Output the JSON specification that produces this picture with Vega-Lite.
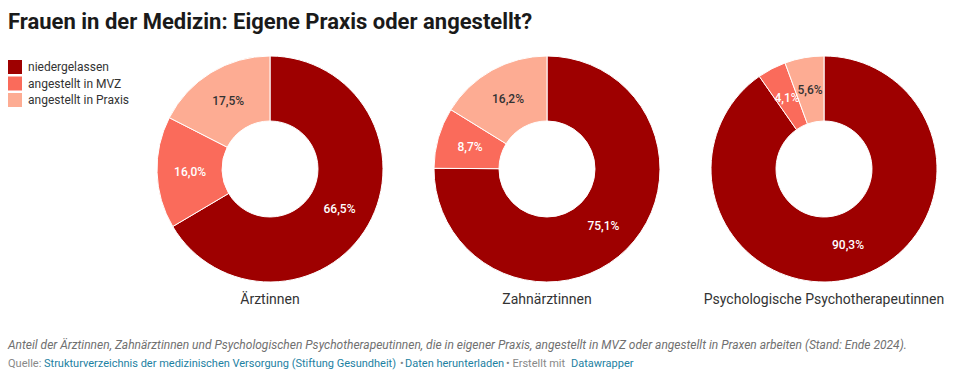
{
  "$schema": "https://vega.github.io/schema/vega-lite/v6.json",
  "padding": {"left": 8, "top": 11, "right": 0, "bottom": 0},
  "config": {
    "view": {"stroke": null},
    "font": "Roboto",
    "locale": {"number": {"decimal": ",", "thousands": ".", "grouping": [3], "currency": ["", " €"]}}
  },
  "title": {
    "text": "Frauen in der Medizin: Eigene Praxis oder angestellt?",
    "anchor": "start",
    "fontSize": 22,
    "fontWeight": "bold",
    "color": "#1a1a1a",
    "font": "Roboto",
    "offset": 20
  },
  "datasets": {
    "shares": [
      {"group": "Ärztinnen", "category": "niedergelassen", "rank": 1, "share": 0.665},
      {"group": "Ärztinnen", "category": "angestellt in MVZ", "rank": 2, "share": 0.160},
      {"group": "Ärztinnen", "category": "angestellt in Praxis", "rank": 3, "share": 0.175},
      {"group": "Zahnärztinnen", "category": "niedergelassen", "rank": 1, "share": 0.751},
      {"group": "Zahnärztinnen", "category": "angestellt in MVZ", "rank": 2, "share": 0.087},
      {"group": "Zahnärztinnen", "category": "angestellt in Praxis", "rank": 3, "share": 0.162},
      {"group": "Psychologische Psychotherapeutinnen", "category": "niedergelassen", "rank": 1, "share": 0.903},
      {"group": "Psychologische Psychotherapeutinnen", "category": "angestellt in MVZ", "rank": 2, "share": 0.041},
      {"group": "Psychologische Psychotherapeutinnen", "category": "angestellt in Praxis", "rank": 3, "share": 0.056}
    ],
    "notes": [
      {"line": "1", "seg": "note", "text": "Anteil der Ärztinnen, Zahnärztinnen und Psychologischen Psychotherapeutinnen, die in eigener Praxis, angestellt in MVZ oder angestellt in Praxen arbeiten (Stand: Ende 2024)."},
      {"line": "2", "seg": "q", "text": "Quelle:"},
      {"line": "2", "seg": "l1", "text": "Strukturverzeichnis der medizinischen Versorgung (Stiftung Gesundheit)"},
      {"line": "2", "seg": "b1", "text": "•"},
      {"line": "2", "seg": "l2", "text": "Daten herunterladen"},
      {"line": "2", "seg": "b2", "text": "• Erstellt mit"},
      {"line": "2", "seg": "l3", "text": "Datawrapper"}
    ]
  },
  "resolve": {"legend": {"color": "independent"}},
  "spacing": 28,
  "vconcat": [
    {
      "data": {"name": "shares"},
      "facet": {
        "column": {
          "field": "group",
          "type": "nominal",
          "sort": ["Ärztinnen", "Zahnärztinnen", "Psychologische Psychotherapeutinnen"],
          "header": {"title": null, "labelOrient": "bottom", "labelFontSize": 14, "labelColor": "#333333", "labelFont": "Roboto", "labelPadding": 9}
        }
      },
      "spacing": 17,
      "spec": {
        "width": 260,
        "height": 230,
        "layer": [
          {
            "mark": {"type": "arc", "innerRadius": 48, "outerRadius": 113, "stroke": "#ffffff", "strokeWidth": 1},
            "encoding": {
              "theta": {"field": "share", "type": "quantitative", "stack": true},
              "order": {"field": "rank", "type": "quantitative"},
              "color": {
                "field": "category",
                "type": "nominal",
                "scale": {"domain": ["niedergelassen", "angestellt in MVZ", "angestellt in Praxis"], "range": ["#9e0000", "#fa6b5b", "#fdac93"]},
                "legend": {
                  "title": null,
                  "orient": "none",
                  "legendX": -132,
                  "legendY": 6,
                  "symbolType": "square",
                  "symbolSize": 196,
                  "symbolStrokeWidth": 0,
                  "symbolOpacity": 1,
                  "labelFontSize": 12,
                  "labelColor": "#333333",
                  "labelFont": "Roboto",
                  "rowPadding": 2.5,
                  "labelOffset": 6
                }
              }
            }
          },
          {
            "mark": {"type": "text", "radius": 80, "fontSize": 12, "fontWeight": 500, "font": "Roboto"},
            "encoding": {
              "theta": {"field": "share", "type": "quantitative", "stack": true},
              "order": {"field": "rank", "type": "quantitative"},
              "text": {"field": "share", "type": "quantitative", "format": ".1%"},
              "color": {"condition": {"test": "datum.category === 'angestellt in Praxis'", "value": "#333333"}, "value": "#ffffff"}
            }
          }
        ]
      }
    },
    {
      "data": {"name": "notes"},
      "width": 780,
      "height": 38,
      "encoding": {
        "x": {"value": -132},
        "y": {"field": "line", "type": "nominal", "axis": null},
        "text": {"field": "text"}
      },
      "layer": [
        {"transform": [{"filter": "datum.seg === 'note'"}], "mark": {"type": "text", "align": "left", "baseline": "middle", "fontSize": 12, "fontStyle": "italic", "color": "#707070", "font": "Roboto"}},
        {"transform": [{"filter": "datum.seg === 'q'"}], "mark": {"type": "text", "align": "left", "baseline": "middle", "fontSize": 11, "color": "#888888", "font": "Roboto"}},
        {"transform": [{"filter": "datum.seg === 'l1'"}], "mark": {"type": "text", "align": "left", "baseline": "middle", "fontSize": 11, "color": "#1d81a2", "font": "Roboto", "dx": 36}},
        {"transform": [{"filter": "datum.seg === 'b1'"}], "mark": {"type": "text", "align": "left", "baseline": "middle", "fontSize": 11, "color": "#888888", "font": "Roboto", "dx": 392}},
        {"transform": [{"filter": "datum.seg === 'l2'"}], "mark": {"type": "text", "align": "left", "baseline": "middle", "fontSize": 11, "color": "#1d81a2", "font": "Roboto", "dx": 397}},
        {"transform": [{"filter": "datum.seg === 'b2'"}], "mark": {"type": "text", "align": "left", "baseline": "middle", "fontSize": 11, "color": "#888888", "font": "Roboto", "dx": 498}},
        {"transform": [{"filter": "datum.seg === 'l3'"}], "mark": {"type": "text", "align": "left", "baseline": "middle", "fontSize": 11, "color": "#1d81a2", "font": "Roboto", "dx": 563}}
      ]
    }
  ]
}
